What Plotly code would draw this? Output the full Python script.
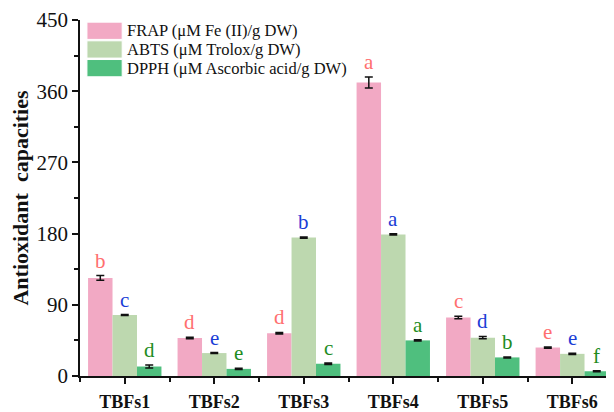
import plotly.graph_objects as go

categories = ["TBFs1", "TBFs2", "TBFs3", "TBFs4", "TBFs5", "TBFs6"]
series_names = ["FRAP (μM Fe (II)/g DW)", "ABTS (μM Trolox/g DW)", "DPPH (μM Ascorbic acid/g DW)"]
frap = [124, 48, 54, 371, 74, 36]
frap_err = [3, 1, 1, 7, 1.5, 0.8]
abts = [77, 29, 175, 179, 48.5, 28]
abts_err = [0.6, 0.6, 0.8, 0.8, 1.5, 0.8]
dpph = [12, 9, 15.5, 45, 23.5, 6]
dpph_err = [1.8, 0.8, 1, 0.8, 0.6, 0.6]
frap_letters = ["b", "d", "d", "a", "c", "e"]
abts_letters = ["c", "e", "b", "a", "d", "e"]
dpph_letters = ["d", "e", "c", "a", "b", "f"]
y_ticks = [0, 90, 180, 270, 360, 450]

colors = ["#F2A9C4", "#BDD8AF", "#4FBF7E"]
letter_colors = ["#FF6F6F", "#1B3DD6", "#1E8C1E"]
FONT = "Liberation Serif"

xs = list(range(len(categories)))
values = [frap, abts, dpph]
errors = [frap_err, abts_err, dpph_err]
letters = [frap_letters, abts_letters, dpph_letters]

fig = go.Figure()
for name, vals, errs, col in zip(series_names, values, errors, colors):
    fig.add_trace(go.Bar(
        x=xs, y=vals, name=name, marker=dict(color=col, line=dict(width=0)),
        error_y=dict(type="data", array=errs, color="#111111", thickness=1.5, width=4),
        showlegend=False,
    ))

bargap = 0.18
bw = (1 - bargap) / 3
annotations = []
for k, (vals, errs, labs) in enumerate(zip(values, errors, letters)):
    off = (k - 1) * bw
    for i, (v, e, l) in enumerate(zip(vals, errs, labs)):
        annotations.append(dict(
            x=i + off, y=v + e, text=l, showarrow=False, yanchor="bottom", yshift=1,
            font=dict(family=FONT, size=21, color=letter_colors[k]), xref="x", yref="y"))

# legend drawn manually (large swatches)
shapes = []
leg_top = 0.994
row_h = 0.0525
for k, (name, col) in enumerate(zip(series_names, colors)):
    y1 = leg_top - k * row_h
    y0 = y1 - row_h + 0.004
    shapes.append(dict(type="rect", xref="paper", yref="paper", x0=0.013, x1=0.079,
                       y0=y0, y1=y1, fillcolor=col, line=dict(width=1, color="#ffffff"), layer="above"))
    annotations.append(dict(xref="paper", yref="paper", x=0.084, y=(y0 + y1) / 2, text=name,
                            showarrow=False, xanchor="left", yanchor="middle",
                            font=dict(family=FONT, size=16.5, color="#111111")))

# the page body adds an 8px offset, so the figure is sized to fit the 614x412 window
fig.update_layout(
    width=606, height=404,
    margin=dict(l=72, r=0, t=12, b=36),
    paper_bgcolor="white", plot_bgcolor="white",
    barmode="group", bargap=bargap, bargroupgap=0,
    font=dict(family=FONT, color="#111111"),
    annotations=annotations, shapes=shapes,
)
fig.update_xaxes(
    range=[-0.5, 5.466], tickvals=xs, ticktext=["<b>%s</b>" % c for c in categories], automargin=False,
    showline=True, linecolor="#111111", linewidth=1.5, showgrid=False, zeroline=False,
    ticks="outside", ticklen=6, tickwidth=1.5, tickcolor="#111111",
    minor=dict(ticks="outside", tick0=0.5, dtick=1, ticklen=4, tickwidth=1.5, tickcolor="#111111", showgrid=False),
    tickfont=dict(family=FONT, size=18, color="#111111"),
    ticklabelstandoff=3,
)
fig.update_yaxes(
    range=[0, 450], tickvals=y_ticks, automargin=False,
    showline=True, linecolor="#111111", linewidth=1.5, showgrid=False, zeroline=False,
    ticks="outside", ticklen=6, tickwidth=1.5, tickcolor="#111111",
    minor=dict(ticks="outside", tick0=45, dtick=90, ticklen=4, tickwidth=1.5, tickcolor="#111111", showgrid=False),
    tickfont=dict(family=FONT, size=21, color="#111111"),
    title=dict(text="<b>Antioxidant  capacities</b>", font=dict(family=FONT, size=22, color="#111111"), standoff=4),
)
fig.write_html("out.html")
